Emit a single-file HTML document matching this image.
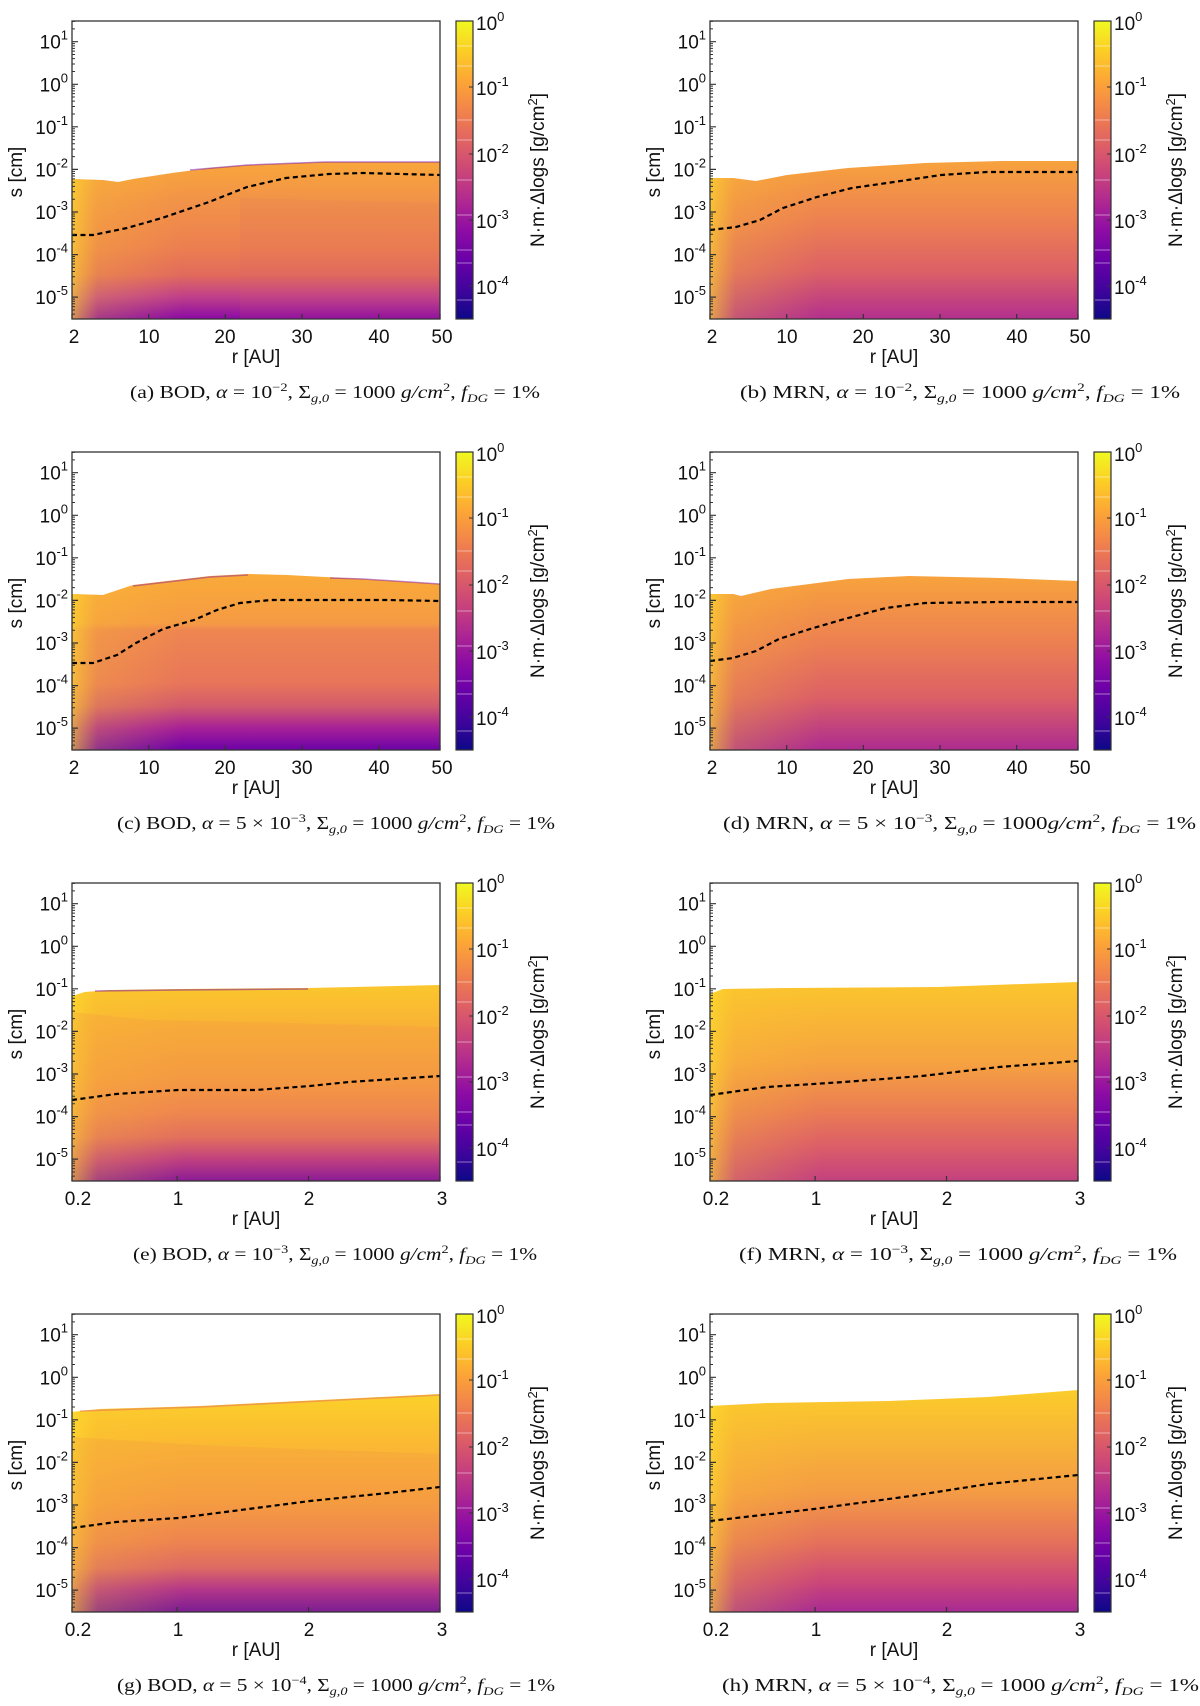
<!DOCTYPE html>
<html><head><meta charset="utf-8"><style>
html,body{margin:0;padding:0;background:#fff}
svg{display:block}
.t{font-family:"Liberation Sans",sans-serif;font-size:19px;fill:#111}
.c{font-family:"Liberation Serif",serif;font-size:18px;fill:#111}
.i{font-style:italic}
</style></head><body>
<svg width="1200" height="1706" viewBox="0 0 1200 1706" xmlns="http://www.w3.org/2000/svg">
<defs>
<linearGradient id="cb" x1="0" y1="1" x2="0" y2="0">
<stop offset="0" stop-color="#0d0887"/><stop offset=".1" stop-color="#41049d"/><stop offset=".2" stop-color="#6a00a8"/><stop offset=".3" stop-color="#8f0da4"/><stop offset=".4" stop-color="#b12a90"/><stop offset=".5" stop-color="#cc4778"/><stop offset=".6" stop-color="#e16462"/><stop offset=".7" stop-color="#f2844b"/><stop offset=".8" stop-color="#fca636"/><stop offset=".9" stop-color="#fcce25"/><stop offset="1" stop-color="#f0f921"/>
</linearGradient>
<linearGradient id="va" gradientUnits="userSpaceOnUse" x1="0" y1="160" x2="0" y2="319">
<stop offset="0" stop-color="#f9a83a"/><stop offset=".25" stop-color="#f29348"/><stop offset=".55" stop-color="#ec7f50"/><stop offset=".72" stop-color="#e26b5c"/><stop offset=".86" stop-color="#c0408a"/><stop offset="1" stop-color="#8a0aa5"/>
</linearGradient>
<linearGradient id="vb" gradientUnits="userSpaceOnUse" x1="0" y1="160" x2="0" y2="319">
<stop offset="0" stop-color="#f7a33d"/><stop offset=".4" stop-color="#ec7f52"/><stop offset=".7" stop-color="#dc6066"/><stop offset="1" stop-color="#b3308e"/>
</linearGradient>
<linearGradient id="vc" gradientUnits="userSpaceOnUse" x1="0" y1="143" x2="0" y2="319">
<stop offset="0" stop-color="#f9ab38"/><stop offset=".28" stop-color="#f59a44"/><stop offset=".32" stop-color="#ee8650"/><stop offset=".62" stop-color="#e8755a"/><stop offset=".75" stop-color="#d35b6c"/><stop offset=".88" stop-color="#a51f98"/><stop offset="1" stop-color="#6c02a8"/>
</linearGradient>
<linearGradient id="vd" gradientUnits="userSpaceOnUse" x1="0" y1="143" x2="0" y2="319">
<stop offset="0" stop-color="#f8a43c"/><stop offset=".4" stop-color="#ec7f52"/><stop offset=".7" stop-color="#dc6066"/><stop offset="1" stop-color="#ad2c90"/>
</linearGradient>
<linearGradient id="ve" gradientUnits="userSpaceOnUse" x1="0" y1="120" x2="0" y2="319">
<stop offset="0" stop-color="#fbc92c"/><stop offset=".2" stop-color="#f9b434"/><stop offset=".5" stop-color="#f69c41"/><stop offset=".66" stop-color="#ee8550"/><stop offset=".78" stop-color="#df6962"/><stop offset=".9" stop-color="#b12a90"/><stop offset="1" stop-color="#7000a8"/>
</linearGradient>
<linearGradient id="vf" gradientUnits="userSpaceOnUse" x1="0" y1="120" x2="0" y2="319">
<stop offset="0" stop-color="#fbc62d"/><stop offset=".4" stop-color="#f6a340"/><stop offset=".65" stop-color="#ea7c54"/><stop offset=".82" stop-color="#dc5f67"/><stop offset="1" stop-color="#c3417f"/>
</linearGradient>
<linearGradient id="vg" gradientUnits="userSpaceOnUse" x1="0" y1="100" x2="0" y2="319">
<stop offset="0" stop-color="#fbd22a"/><stop offset=".2" stop-color="#fbbc31"/><stop offset=".5" stop-color="#f7a03f"/><stop offset=".68" stop-color="#ed8251"/><stop offset=".8" stop-color="#d9626a"/><stop offset=".9" stop-color="#a3209a"/><stop offset="1" stop-color="#5e02a5"/>
</linearGradient>
<linearGradient id="vh" gradientUnits="userSpaceOnUse" x1="0" y1="100" x2="0" y2="319">
<stop offset="0" stop-color="#fbcb2b"/><stop offset=".45" stop-color="#f49c44"/><stop offset=".68" stop-color="#e5715a"/><stop offset=".86" stop-color="#cc4778"/><stop offset="1" stop-color="#a82a93"/>
</linearGradient>
<linearGradient id="hx" gradientUnits="userSpaceOnUse" x1="72" y1="0" x2="440" y2="0">
<stop offset="0" stop-color="#fde02a" stop-opacity=".65"/><stop offset=".07" stop-color="#fcc82e" stop-opacity=".25"/><stop offset=".3" stop-color="#fcc82e" stop-opacity="0"/><stop offset="1" stop-color="#fcc82e" stop-opacity="0"/>
</linearGradient>
<path id="dec" d="M72,-12.81h3M72,-20.31h3M72,-25.63h3M72,-29.76h3M72,-33.12h3M72,-35.97h3M72,-38.44h3M72,-40.62h3" stroke="#333" stroke-width="1"/>
<clipPath id="pc"><rect x="72" y="21" width="368" height="298"/></clipPath>
<g id="axes">
<g clip-path="url(#pc)">
<use href="#dec" y="339.7"/><use href="#dec" y="297.1"/><use href="#dec" y="254.6"/><use href="#dec" y="212"/><use href="#dec" y="169.4"/><use href="#dec" y="126.8"/><use href="#dec" y="84.3"/><use href="#dec" y="41.7"/>
</g>
<path d="M72,41.7h6M72,84.3h6M72,126.8h6M72,169.4h6M72,212h6M72,254.6h6M72,297.1h6" stroke="#333" stroke-width="1.2"/>
<rect x="72" y="21" width="368" height="298" fill="none" stroke="#333" stroke-width="1.3"/>
<rect x="456" y="21" width="17" height="298" fill="url(#cb)" stroke="#333" stroke-width="1.2"/>
<path d="M457,46h15M457,66h15M457,120h15M457,140h15M457,180h15M457,215h15M457,250h15M457,263h15M457,300h15" stroke="#fff" stroke-opacity=".45" stroke-width="1"/>
<path d="M473,87h-4M473,154h-4M473,220h-4M473,286h-4" stroke="#333" stroke-width="1"/>
<text class="t" x="68" y="48.7" text-anchor="end">10<tspan dy="-9" font-size="13">1</tspan></text>
<text class="t" x="68" y="91.3" text-anchor="end">10<tspan dy="-9" font-size="13">0</tspan></text>
<text class="t" x="68" y="133.8" text-anchor="end">10<tspan dy="-9" font-size="13">-1</tspan></text>
<text class="t" x="68" y="176.4" text-anchor="end">10<tspan dy="-9" font-size="13">-2</tspan></text>
<text class="t" x="68" y="219" text-anchor="end">10<tspan dy="-9" font-size="13">-3</tspan></text>
<text class="t" x="68" y="261.6" text-anchor="end">10<tspan dy="-9" font-size="13">-4</tspan></text>
<text class="t" x="68" y="304.1" text-anchor="end">10<tspan dy="-9" font-size="13">-5</tspan></text>
<text class="t" x="476" y="30">10<tspan dy="-9" font-size="13">0</tspan></text>
<text class="t" x="476" y="95">10<tspan dy="-9" font-size="13">-1</tspan></text>
<text class="t" x="476" y="162">10<tspan dy="-9" font-size="13">-2</tspan></text>
<text class="t" x="476" y="228">10<tspan dy="-9" font-size="13">-3</tspan></text>
<text class="t" x="476" y="294">10<tspan dy="-9" font-size="13">-4</tspan></text>
<text class="t" x="256" y="363" text-anchor="middle">r [AU]</text>
<text class="t" transform="translate(22,172) rotate(-90)" text-anchor="middle">s [cm]</text>
<text class="t" transform="translate(544,170) rotate(-90)" text-anchor="middle">N·m·Δlogs [g/cm<tspan dy="-7" font-size="13">2</tspan><tspan dy="7">]</tspan></text>
</g>
<g id="xa">
<path d="M72,319v-5M148.7,319v-5M225.3,319v-5M302,319v-5M378.7,319v-5M440,319v-5" stroke="#333" stroke-width="1.2"/>
<text class="t" y="343" text-anchor="middle"><tspan x="74">2</tspan><tspan x="149">10</tspan><tspan x="225">20</tspan><tspan x="302">30</tspan><tspan x="379">40</tspan><tspan x="442">50</tspan></text>
</g>
<g id="xb">
<path d="M72,319v-5M177.1,319v-5M308.5,319v-5M440,319v-5" stroke="#333" stroke-width="1.2"/>
<text class="t" y="343" text-anchor="middle"><tspan x="78">0.2</tspan><tspan x="178">1</tspan><tspan x="309">2</tspan><tspan x="442">3</tspan></text>
</g>
</defs>

<!-- (a) -->
<g>
<path d="M72,179 L103,180 L118,182 L133,179 L172,173 L210,168 L248,165 L325,162 L440,162 L440,319 L72,319Z" fill="url(#va)"/>
<path d="M72,179 L103,180 L118,182 L133,179 L172,173 L210,168 L248,165 L325,162 L440,162 L440,319 L72,319Z" fill="url(#hx)"/>
<path d="M240,198 L440,203 L440,319 L240,319Z" fill="#d9606a" opacity=".1"/>
<path d="M190,170 L248,165 L325,162 L440,162" fill="none" stroke="#7a10a8" stroke-width="1.5" opacity=".5"/>
<path d="M72,235 L93,235 L127,228 L162,218 L209,202 L247,187 L286,178 L329,174 L363,173 L440,175" fill="none" stroke="#000" stroke-width="2.2" stroke-dasharray="5,3.5"/>
<use href="#axes"/><use href="#xa"/>
<text class="c" x="130" y="398" textLength="410" lengthAdjust="spacingAndGlyphs">(a) BOD, <tspan class="i">α</tspan> = 10<tspan dy="-7" font-size="12">−2</tspan><tspan dy="7">, Σ</tspan><tspan dy="4" font-size="12" class="i">g,0</tspan><tspan dy="-4"> = 1000 </tspan><tspan class="i">g/cm</tspan><tspan dy="-7" font-size="12">2</tspan><tspan dy="7">, </tspan><tspan class="i">f</tspan><tspan dy="4" font-size="12" class="i">DG</tspan><tspan dy="-4"> = 1%</tspan></text>
</g>

<!-- (b) -->
<g transform="translate(638,0)">
<path d="M72,178 L95,178 L118,181 L149,175 L210,168 L287,163 L363,161 L440,161 L440,319 L72,319Z" fill="url(#vb)"/>
<path d="M72,178 L95,178 L118,181 L149,175 L210,168 L287,163 L363,161 L440,161 L440,319 L72,319Z" fill="url(#hx)"/>
<path d="M72,230 L98,227 L122,220 L145,208 L179,197 L214,188 L256,182 L303,175 L349,172 L440,172" fill="none" stroke="#000" stroke-width="2.2" stroke-dasharray="5,3.5"/>
<use href="#axes"/><use href="#xa"/>
<text class="c" x="102" y="398" textLength="440" lengthAdjust="spacingAndGlyphs">(b) MRN, <tspan class="i">α</tspan> = 10<tspan dy="-7" font-size="12">−2</tspan><tspan dy="7">, Σ</tspan><tspan dy="4" font-size="12" class="i">g,0</tspan><tspan dy="-4"> = 1000 </tspan><tspan class="i">g/cm</tspan><tspan dy="-7" font-size="12">2</tspan><tspan dy="7">, </tspan><tspan class="i">f</tspan><tspan dy="4" font-size="12" class="i">DG</tspan><tspan dy="-4"> = 1%</tspan></text>
</g>

<!-- (c) -->
<g transform="translate(0,431)">
<path d="M72,163 L103,164 L133,154 L210,145 L248,143 L287,144 L363,148 L440,153 L440,319 L72,319Z" fill="url(#vc)"/>
<path d="M72,163 L103,164 L133,154 L210,145 L248,143 L287,144 L363,148 L440,153 L440,319 L72,319Z" fill="url(#hx)"/>
<path d="M133,155 L210,146 L248,144" fill="none" stroke="#8a18a0" stroke-width="1.5" opacity=".45"/>
<path d="M330,147 L363,148 L440,153" fill="none" stroke="#8a18a0" stroke-width="1.5" opacity=".5"/>
<path d="M72,232 L93,232 L117,224 L136,212 L163,198 L194,189 L217,179 L240,172 L271,169 L310,169 L387,169 L440,170" fill="none" stroke="#000" stroke-width="2.2" stroke-dasharray="5,3.5"/>
<use href="#axes"/><use href="#xa"/>
<text class="c" x="117" y="398" textLength="438" lengthAdjust="spacingAndGlyphs">(c) BOD, <tspan class="i">α</tspan> = 5 × 10<tspan dy="-7" font-size="12">−3</tspan><tspan dy="7">, Σ</tspan><tspan dy="4" font-size="12" class="i">g,0</tspan><tspan dy="-4"> = 1000 </tspan><tspan class="i">g/cm</tspan><tspan dy="-7" font-size="12">2</tspan><tspan dy="7">, </tspan><tspan class="i">f</tspan><tspan dy="4" font-size="12" class="i">DG</tspan><tspan dy="-4"> = 1%</tspan></text>
</g>

<!-- (d) -->
<g transform="translate(638,431)">
<path d="M72,163 L95,163 L103,165 L133,158 L210,148 L271,145 L363,147 L440,150 L440,319 L72,319Z" fill="url(#vd)"/>
<path d="M72,163 L95,163 L103,165 L133,158 L210,148 L271,145 L363,147 L440,150 L440,319 L72,319Z" fill="url(#hx)"/>
<path d="M72,230 L95,227 L118,220 L141,208 L172,198 L210,187 L248,177 L287,172 L363,171 L440,171" fill="none" stroke="#000" stroke-width="2.2" stroke-dasharray="5,3.5"/>
<use href="#axes"/><use href="#xa"/>
<text class="c" x="85" y="398" textLength="473" lengthAdjust="spacingAndGlyphs">(d) MRN, <tspan class="i">α</tspan> = 5 × 10<tspan dy="-7" font-size="12">−3</tspan><tspan dy="7">, Σ</tspan><tspan dy="4" font-size="12" class="i">g,0</tspan><tspan dy="-4"> =  1000</tspan><tspan class="i">g/cm</tspan><tspan dy="-7" font-size="12">2</tspan><tspan dy="7">, </tspan><tspan class="i">f</tspan><tspan dy="4" font-size="12" class="i">DG</tspan><tspan dy="-4"> = 1%</tspan></text>
</g>

<!-- (e) -->
<g transform="translate(0,862)">
<path d="M72,134 L85,130 L110,128 L178,127 L308,126 L440,123 L440,319 L72,319Z" fill="url(#ve)"/>
<path d="M72,134 L85,130 L110,128 L178,127 L308,126 L440,123 L440,319 L72,319Z" fill="url(#hx)"/>
<path d="M72,150 L150,158 L250,160 L440,165 L440,319 L72,319Z" fill="#ee8a4c" opacity=".2"/>
<path d="M95,129 L178,128 L308,127" fill="none" stroke="#7a10a8" stroke-width="1.5" opacity=".5"/>
<path d="M72,238 L116,232 L178,228 L256,228 L310,224 L349,220 L440,214" fill="none" stroke="#000" stroke-width="2.2" stroke-dasharray="5,3.5"/>
<use href="#axes"/><use href="#xb"/>
<text class="c" x="133" y="398" textLength="404" lengthAdjust="spacingAndGlyphs">(e) BOD, <tspan class="i">α</tspan> = 10<tspan dy="-7" font-size="12">−3</tspan><tspan dy="7">, Σ</tspan><tspan dy="4" font-size="12" class="i">g,0</tspan><tspan dy="-4"> = 1000 </tspan><tspan class="i">g/cm</tspan><tspan dy="-7" font-size="12">2</tspan><tspan dy="7">, </tspan><tspan class="i">f</tspan><tspan dy="4" font-size="12" class="i">DG</tspan><tspan dy="-4"> = 1%</tspan></text>
</g>

<!-- (f) -->
<g transform="translate(638,862)">
<path d="M72,132 L85,127 L150,126 L300,125 L440,120 L440,319 L72,319Z" fill="url(#vf)"/>
<path d="M72,132 L85,127 L150,126 L300,125 L440,120 L440,319 L72,319Z" fill="url(#hx)"/>
<path d="M72,233 L129,225 L206,220 L284,214 L361,205 L440,199" fill="none" stroke="#000" stroke-width="2.2" stroke-dasharray="5,3.5"/>
<use href="#axes"/><use href="#xb"/>
<text class="c" x="101" y="398" textLength="438" lengthAdjust="spacingAndGlyphs">(f) MRN, <tspan class="i">α</tspan> = 10<tspan dy="-7" font-size="12">−3</tspan><tspan dy="7">, Σ</tspan><tspan dy="4" font-size="12" class="i">g,0</tspan><tspan dy="-4"> = 1000 </tspan><tspan class="i">g/cm</tspan><tspan dy="-7" font-size="12">2</tspan><tspan dy="7">, </tspan><tspan class="i">f</tspan><tspan dy="4" font-size="12" class="i">DG</tspan><tspan dy="-4"> = 1%</tspan></text>
</g>

<!-- (g) -->
<g transform="translate(0,1293)">
<path d="M72,119 L100,116 L200,113 L300,108 L440,101 L440,319 L72,319Z" fill="url(#vg)"/>
<path d="M72,119 L100,116 L200,113 L300,108 L440,101 L440,319 L72,319Z" fill="url(#hx)"/>
<path d="M72,144 L200,152 L300,156 L440,161 L440,319 L72,319Z" fill="#ee8a4c" opacity=".2"/>
<path d="M80,118 L200,114 L300,109 L440,102" fill="none" stroke="#e0606a" stroke-width="1.5" opacity=".45"/>
<path d="M72,235 L116,229 L178,225 L233,218 L310,208 L388,200 L440,194" fill="none" stroke="#000" stroke-width="2.2" stroke-dasharray="5,3.5"/>
<use href="#axes"/><use href="#xb"/>
<text class="c" x="117" y="398" textLength="438" lengthAdjust="spacingAndGlyphs">(g) BOD, <tspan class="i">α</tspan> = 5 × 10<tspan dy="-7" font-size="12">−4</tspan><tspan dy="7">, Σ</tspan><tspan dy="4" font-size="12" class="i">g,0</tspan><tspan dy="-4"> = 1000 </tspan><tspan class="i">g/cm</tspan><tspan dy="-7" font-size="12">2</tspan><tspan dy="7">, </tspan><tspan class="i">f</tspan><tspan dy="4" font-size="12" class="i">DG</tspan><tspan dy="-4"> = 1%</tspan></text>
</g>

<!-- (h) -->
<g transform="translate(638,1293)">
<path d="M72,113 L130,110 L250,108 L350,104 L440,97 L440,319 L72,319Z" fill="url(#vh)"/>
<path d="M72,113 L130,110 L250,108 L350,104 L440,97 L440,319 L72,319Z" fill="url(#hx)"/>
<path d="M72,228 L176,216 L273,203 L350,191 L440,182" fill="none" stroke="#000" stroke-width="2.2" stroke-dasharray="5,3.5"/>
<use href="#axes"/><use href="#xb"/>
<text class="c" x="84" y="398" textLength="477" lengthAdjust="spacingAndGlyphs">(h) MRN, <tspan class="i">α</tspan> = 5 × 10<tspan dy="-7" font-size="12">−4</tspan><tspan dy="7">, Σ</tspan><tspan dy="4" font-size="12" class="i">g,0</tspan><tspan dy="-4"> = 1000 </tspan><tspan class="i">g/cm</tspan><tspan dy="-7" font-size="12">2</tspan><tspan dy="7">, </tspan><tspan class="i">f</tspan><tspan dy="4" font-size="12" class="i">DG</tspan><tspan dy="-4"> = 1%</tspan></text>
</g>
</svg>
</body></html>
